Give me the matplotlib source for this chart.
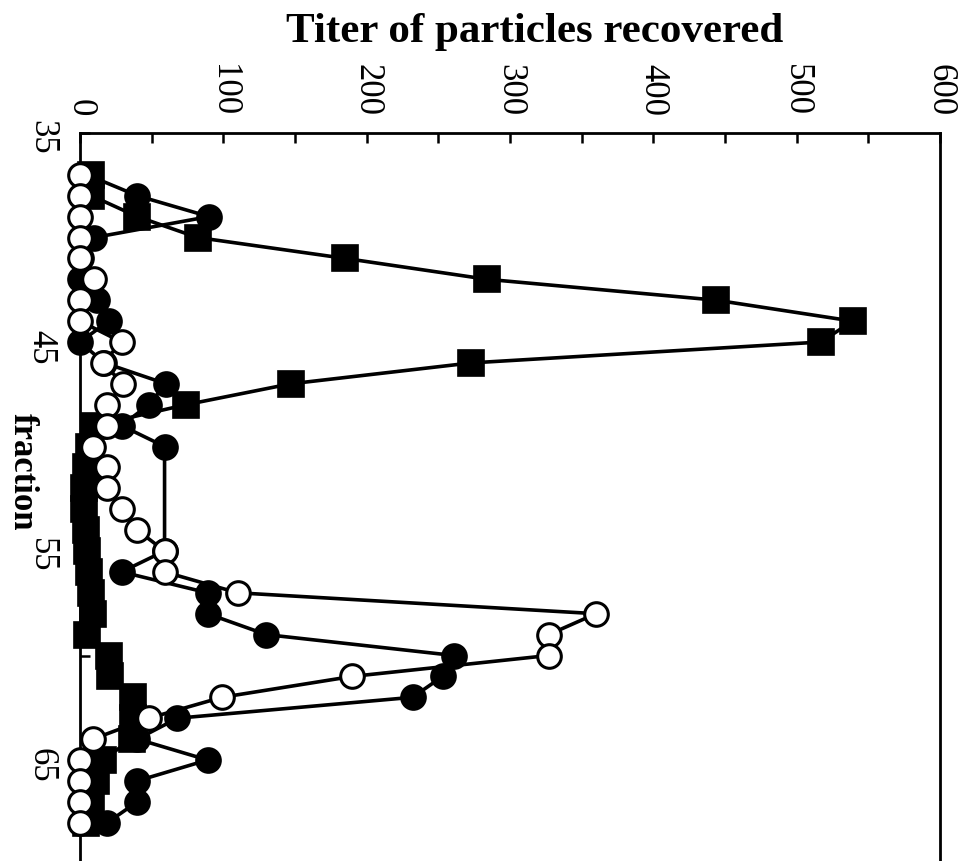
import matplotlib
matplotlib.use("Agg")
import matplotlib.pyplot as plt
from matplotlib.ticker import MultipleLocator

# ---- data (fraction number vs titer of particles recovered) ----
sq_fraction = [37, 38, 39, 40, 41, 42, 43, 44, 45, 46, 47, 48, 49, 50, 51, 52,
               53, 54, 55, 56, 57, 58, 59, 60, 61, 62, 63, 64, 65, 66, 67, 68]
sq_titer = [8, 8, 40, 82, 185, 284, 444, 539, 517, 273, 147, 74, 10, 6, 4, 3,
            3, 4, 5, 6, 8, 9, 5, 20, 21, 37, 37, 36, 16, 11, 8, 4]

fc_fraction = [37, 38, 39, 40, 41, 42, 43, 44, 45, 46, 47, 48, 49, 50,
               55, 56, 57, 58, 59, 60, 61, 62, 63, 64, 65, 66, 67, 68]
fc_titer = [5, 40, 90, 10, 1, 0, 12, 20, 0, 17, 60, 48, 29, 59,
            59, 29, 89, 89, 130, 261, 253, 232, 68, 40, 89, 40, 40, 19]

oc_fraction = [37, 38, 39, 40, 41, 42, 43, 44, 45, 46, 47, 48, 49, 50, 51, 52,
               53, 54, 55, 56, 57, 58, 59, 60, 61, 62, 63, 64, 65, 66, 67, 68]
oc_titer = [0, 0, 0, 0, 0, 10, 0, 0, 29, 16, 30, 19, 19, 9, 19, 19,
            29, 40, 59, 59, 110, 360, 327, 327, 190, 99, 48, 9, 0, 0, 0, 0]

titer_ticks = [0, 100, 200, 300, 400, 500, 600]
fraction_ticks = [35, 45, 55, 65]

W, H = 960, 861
fig = plt.figure(figsize=(W / 100, H / 100), dpi=100)
left_px, right_px, top_px = 80, 940, 133
ax = fig.add_axes([left_px / W, 0.0, (right_px - left_px) / W, 1 - top_px / H])

serif = ["Liberation Serif", "DejaVu Serif"]
lw = 2.6

ax.plot(sq_titer, sq_fraction, color="black", lw=lw, marker="s", ms=19,
        mfc="black", mec="black", mew=1.2, zorder=2, clip_on=False)
ax.plot(fc_titer, fc_fraction, color="black", lw=lw, marker="o", ms=18,
        mfc="black", mec="black", mew=1.2, zorder=3, clip_on=False)
ax.plot(oc_titer, oc_fraction, color="black", lw=lw, marker="o", ms=17,
        mfc="white", mec="black", mew=2.2, zorder=4, clip_on=False)

ax.set_xlim(0, 600)
bottom_frac = 35 + (H - top_px) / 20.9
ax.set_ylim(bottom_frac, 35)

ax.xaxis.tick_top()
ax.set_xticks(titer_ticks)
ax.xaxis.set_minor_locator(MultipleLocator(50))
ax.set_yticks(fraction_ticks)
ax.yaxis.set_minor_locator(MultipleLocator(5))

ax.tick_params(axis="x", which="both", direction="in", length=7, width=1.8,
               top=True, bottom=False, pad=12)
ax.tick_params(axis="y", which="both", direction="in", length=7, width=1.8,
               left=True, right=False, pad=16)
for lab in ax.get_xticklabels():
    lab.set_rotation(-90)
    lab.set_fontfamily(serif)
    lab.set_fontsize(25)
for lab in ax.get_yticklabels():
    lab.set_rotation(-90)
    lab.set_fontfamily(serif)
    lab.set_fontsize(25)

for side in ["top", "left", "right"]:
    ax.spines[side].set_linewidth(2.0)
ax.spines["bottom"].set_visible(False)

fig.text(535 / W, 1 - 32 / H, "Titer of particles recovered", ha="center",
         va="center", fontsize=31, fontweight="bold", family=serif)
fig.text(22 / W, 1 - 472 / H, "fraction", ha="center", va="center",
         rotation=-90, fontsize=25, fontweight="bold", family=serif)

fig.savefig("out.png", dpi=100)
